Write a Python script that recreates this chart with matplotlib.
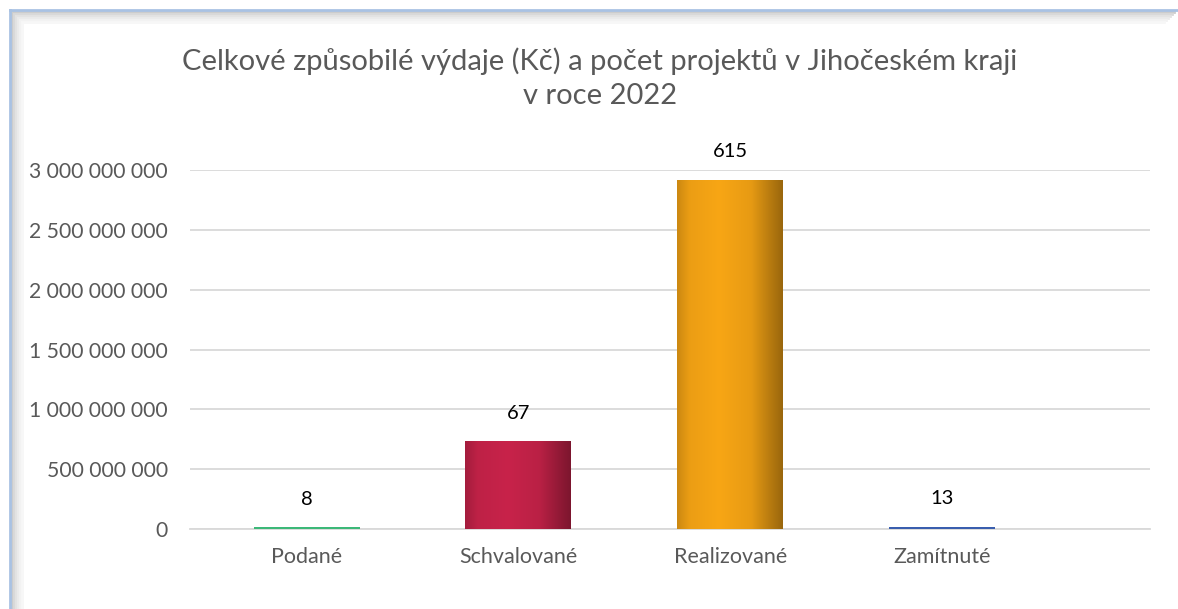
import numpy as np
import matplotlib.pyplot as plt
from matplotlib.colors import to_rgb
from matplotlib.lines import Line2D

categories = ["Podané", "Schvalované", "Realizované", "Zamítnuté"]
vydaje = [15_000_000, 733_000_000, 2_917_000_000, 18_000_000]
pocet = [8, 67, 615, 13]
colors = ["#3cb878", "#c8234a", "#f8a615", "#3a5eae"]

title = "Celkové způsobilé výdaje (Kč) a počet projektů v Jihočeském kraji\nv roce 2022"

plt.rcParams['font.family'] = ['Lato', 'DejaVu Sans']

W, H = 1178, 609
fig = plt.figure(figsize=(W / 100, H / 100), dpi=100)
fig.patch.set_facecolor("white")

# okno / ramecek
for i, g in enumerate([0.80, 0.85, 0.89, 0.92, 0.95, 0.97]):
    off = 12 + i * 2
    fig.add_artist(Line2D([off / W, off / W], [0, 1 - off / H], color=(g, g, g), lw=2))
    fig.add_artist(Line2D([off / W, 1 - (off - 8) / W], [1 - off / H, 1 - off / H], color=(g, g, g), lw=2))
fig.add_artist(Line2D([10 / W, 10 / W], [0, 1 - 10 / H], color="#a9c2e3", lw=2))
fig.add_artist(Line2D([10 / W, 1], [1 - 10 / H, 1 - 10 / H], color="#a9c2e3", lw=2))

ax = fig.add_axes([190 / W, 1 - 529 / H, (1150 - 190) / W, (529 - 170) / H])
x = np.arange(len(categories))
bars = ax.bar(x, vydaje, width=0.5, color=colors, zorder=3)

# valcovy prechod barvy
prof_x = [0.0, 0.12, 0.4, 0.7, 0.9, 1.0]
prof_f = [0.82, 0.95, 1.0, 0.93, 0.72, 0.62]
t = np.linspace(0, 1, 200)
for b, c in zip(bars, colors):
    base = np.array(to_rgb(c))
    fac = np.interp(t, prof_x, prof_f)
    if b.get_height() < 100_000_000:
        # tenke sloupce jen plnou barvou
        continue
    img = np.clip(base[None, :] * fac[:, None], 0, 1)[None, :, :]
    b.set_facecolor("none")
    x0, w, h = b.get_x(), b.get_width(), b.get_height()
    im = ax.imshow(img, extent=[x0, x0 + w, 0, h], aspect="auto", zorder=3, interpolation="bilinear")
    im.set_clip_path(b)

for b, n in zip(bars, pocet):
    ax.annotate(str(n), (b.get_x() + b.get_width() / 2, b.get_height()),
                xytext=(0, 14), textcoords="offset points", ha="center", va="bottom",
                fontsize=14.5, color="black", annotation_clip=False)

ax.set_xlim(-0.55, 3.98)
ax.set_ylim(0, 3_000_000_000)
ax.set_yticks(np.arange(0, 3_000_000_001, 500_000_000))
ax.yaxis.set_major_formatter(plt.FuncFormatter(lambda v, p: f"{v:,.0f}".replace(",", " ")))
ax.set_xticks(x)
ax.set_xticklabels(categories)
ax.grid(axis="y", color="#d9d9d9", lw=1.3, zorder=0)
ax.set_axisbelow(True)
for s in ["top", "right", "left"]:
    ax.spines[s].set_visible(False)
ax.spines["bottom"].set_color("#d9d9d9")
ax.spines["bottom"].set_linewidth(1.3)
ax.spines["bottom"].set_zorder(1)
ax.tick_params(axis="both", length=0, labelcolor="#595959")
ax.tick_params(axis="y", pad=16, labelsize=15.2)
ax.tick_params(axis="x", pad=13, labelsize=15.5)

fig.text(600 / W, 1 - 78 / H, title, ha="center", va="center", fontsize=21,
         color="#595959", linespacing=1.4)

fig.savefig("out.png", dpi=100)
